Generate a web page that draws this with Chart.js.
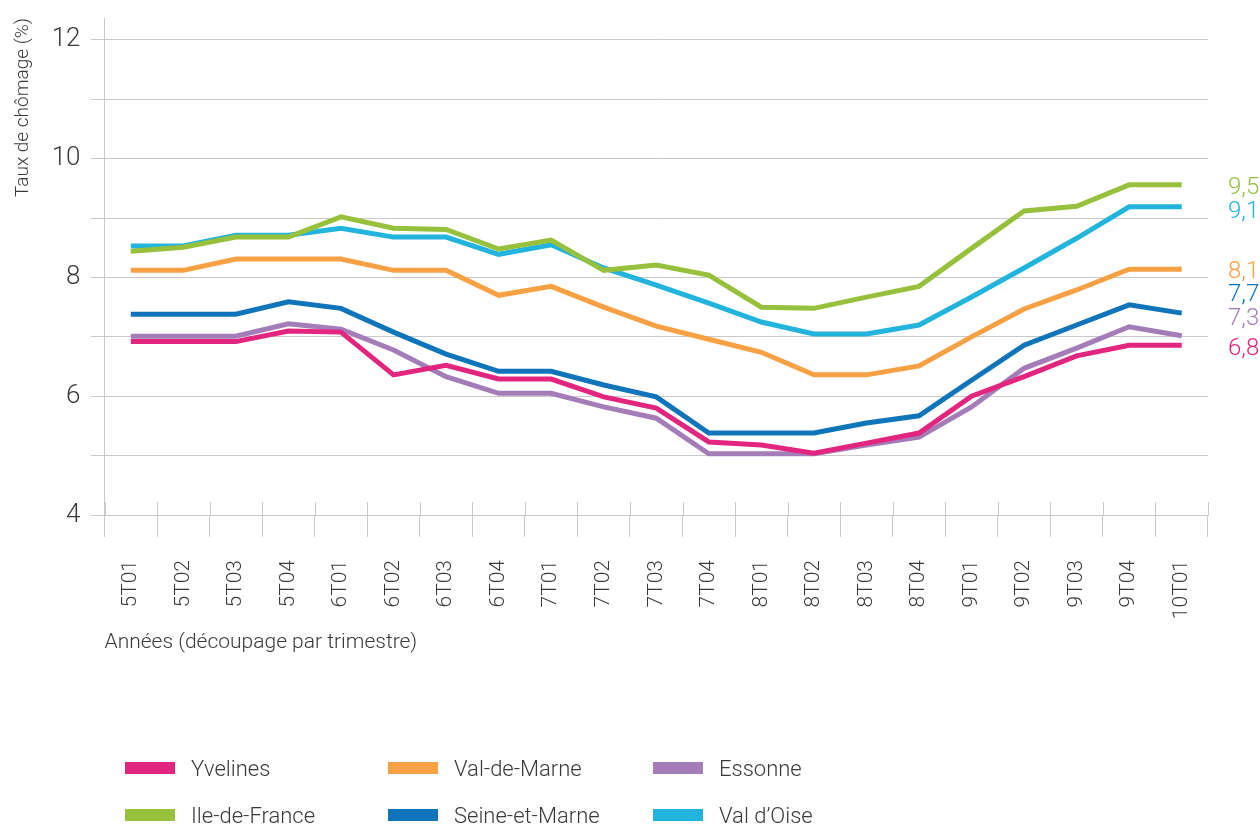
<!DOCTYPE html>
<html>
<head>
<meta charset="utf-8">
<script src="https://cdn.jsdelivr.net/npm/chart.js@4"></script>
<style>
  html, body { margin: 0; padding: 0; background: #fff; }
  #wrap { position: relative; width: 1260px; height: 829px; }
  #legend { position: absolute; left: 0; top: 0; width: 1260px; height: 829px; pointer-events: none; }
  .item { position: absolute; display: flex; align-items: center; font-family: Roboto, "Liberation Sans", sans-serif; font-weight: 300; font-size: 22px; color: #3a3a3a; }
  .sw { width: 50px; height: 12px; margin-right: 16px; }
</style>
</head>
<body>
<div id="wrap">
  <canvas id="c" width="1260" height="829"></canvas>
  <div id="legend"></div>
</div>
<script>
const FONT = 'Roboto, "Liberation Sans", sans-serif';

const categories = ['5T01','5T02','5T03','5T04','6T01','6T02','6T03','6T04','7T01','7T02','7T03','7T04','8T01','8T02','8T03','8T04','9T01','9T02','9T03','9T04','10T01'];

const yvelines     = [6.92,6.92,6.92,7.10,7.08,6.36,6.52,6.29,6.29,5.99,5.80,5.23,5.18,5.04,5.21,5.38,6.00,6.33,6.68,6.86,6.86];
const valDeMarne   = [8.12,8.12,8.31,8.31,8.31,8.12,8.12,7.70,7.85,7.50,7.18,6.96,6.74,6.36,6.36,6.51,7.00,7.47,7.79,8.14,8.14];
const essonne      = [7.01,7.01,7.01,7.22,7.13,6.78,6.33,6.05,6.05,5.82,5.63,5.03,5.03,5.03,5.18,5.31,5.82,6.47,6.81,7.17,7.02];
const ileDeFrance  = [8.44,8.51,8.68,8.68,9.02,8.83,8.81,8.48,8.63,8.12,8.21,8.04,7.50,7.48,7.67,7.85,8.49,9.12,9.20,9.56,9.56];
const seineEtMarne = [7.38,7.38,7.38,7.59,7.48,7.08,6.71,6.42,6.42,6.19,5.99,5.38,5.38,5.38,5.55,5.67,6.27,6.86,7.20,7.54,7.40];
const valDOise     = [8.53,8.53,8.71,8.71,8.83,8.68,8.68,8.39,8.55,8.16,7.87,7.57,7.25,7.05,7.05,7.20,7.67,8.16,8.66,9.19,9.19];

const seriesNames  = ['Yvelines','Val-de-Marne','Essonne','Ile-de-France','Seine-et-Marne',"Val d\u2019Oise"];
const seriesColors = ['#e2267f','#f7a144','#a47cb8','#97c03d','#0f74b9','#22b4dc'];
const seriesData   = [yvelines, valDeMarne, essonne, ileDeFrance, seineEtMarne, valDOise];

const endLabels      = ['9,5','9,1','8,1','7,7','7,3','6,8'];
const endLabelColors = ['#97c03d','#22b4dc','#f7a144','#0f74b9','#a47cb8','#e2267f'];

const yGridValues = [4, 5, 6, 7, 8, 9, 10, 11, 12];
const yTickLabels = [4, 6, 8, 10, 12];

const GRID = '#c9c9c9';
const TEXT = '#3a3a3a';

const extras = {
  id: 'extras',
  afterDraw(chart) {
    const ctx = chart.ctx;
    const xs = chart.scales.x, ys = chart.scales.y;
    const area = chart.chartArea;
    ctx.save();
    ctx.strokeStyle = GRID;
    ctx.lineWidth = 1;
    const half = (xs.getPixelForValue(1) - xs.getPixelForValue(0)) / 2;
    for (let i = 0; i <= categories.length; i++) {
      const x = Math.round(xs.getPixelForValue(i) - half) + 0.5;
      ctx.beginPath();
      ctx.moveTo(x, area.bottom - 13);
      ctx.lineTo(x, area.bottom);
      ctx.stroke();
    }
    ctx.font = '300 24px ' + FONT;
    ctx.textAlign = 'left';
    ctx.textBaseline = 'middle';
    endLabels.forEach((t, i) => {
      ctx.fillStyle = endLabelColors[i];
      ctx.fillText(t, area.right + 20, ys.getPixelForValue(parseFloat(t.replace(',', '.'))));
    });
    ctx.restore();
  }
};

new Chart(document.getElementById('c'), {
  type: 'line',
  data: {
    labels: categories,
    datasets: seriesNames.map((n, i) => ({
      label: n,
      data: seriesData[i],
      borderColor: seriesColors[i],
      backgroundColor: seriesColors[i],
      borderWidth: 5,
      pointRadius: 0,
      tension: 0,
      fill: false
    }))
  },
  options: {
    responsive: false,
    animation: false,
    layout: { padding: { top: 18, right: 52, bottom: 173, left: 0 } },
    plugins: { legend: { display: false }, tooltip: { enabled: false } },
    scales: {
      x: {
        offset: true,
        grid: { display: true, offset: true, drawOnChartArea: false, color: GRID, tickLength: 22, tickColor: GRID },
        border: { display: true, color: GRID },
        ticks: {
          autoSkip: false, maxRotation: 90, minRotation: 90, padding: 23,
          color: TEXT, font: { family: FONT, size: 21, weight: 300 }
        },
        title: {
          display: true, align: 'start', text: 'Ann\u00e9es (d\u00e9coupage par trimestre)',
          color: TEXT, font: { family: FONT, size: 21, weight: 300 }, padding: { top: 14, bottom: 1 }
        },
        afterFit(s) { s.height = 141; s.paddingLeft = 0; s.paddingRight = 0; }
      },
      y: {
        min: 4, max: 12.37,
        afterBuildTicks(s) { s.ticks = yGridValues.map(v => ({ value: v })); },
        afterFit(s) { s.width = 104.5; s.paddingTop = 0; s.paddingBottom = 0; },
        grid: { color: GRID, tickLength: 14, tickColor: GRID },
        border: { display: true, color: GRID },
        ticks: {
          padding: 10, color: TEXT, font: { family: FONT, size: 26, weight: 300 },
          callback: v => yTickLabels.includes(v) ? String(v) : ''
        },
        title: {
          display: true, align: 'end', text: 'Taux de ch\u00f4mage (%)',
          color: TEXT, font: { family: FONT, size: 19, weight: 300 }, padding: { top: 12, bottom: 0 }
        }
      }
    }
  },
  plugins: [extras]
});

const colX = [125, 388, 653];
const rowY = [768, 815];
const lg = document.getElementById('legend');
seriesNames.forEach((name, k) => {
  const el = document.createElement('div');
  el.className = 'item';
  el.style.left = colX[k % 3] + 'px';
  el.style.top = (rowY[Math.floor(k / 3)] - 15) + 'px';
  el.style.height = '30px';
  const sw = document.createElement('span');
  sw.className = 'sw';
  sw.style.background = seriesColors[k];
  const tx = document.createElement('span');
  tx.textContent = name;
  el.appendChild(sw); el.appendChild(tx);
  lg.appendChild(el);
});
</script>
</body>
</html>
